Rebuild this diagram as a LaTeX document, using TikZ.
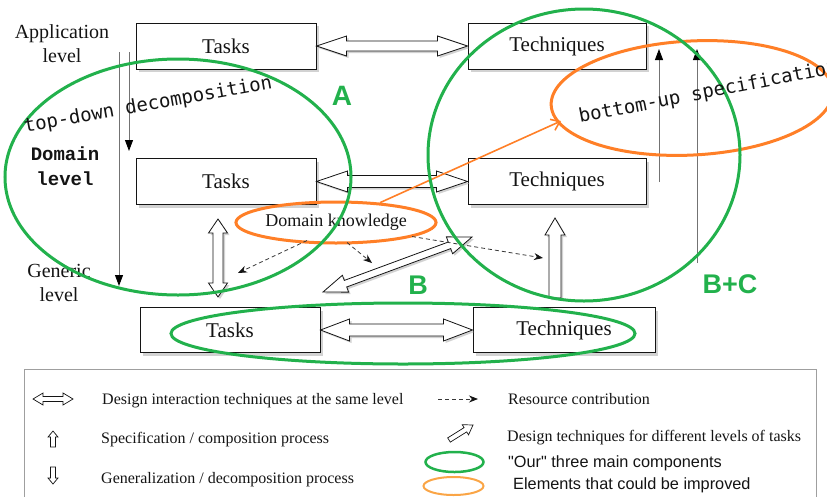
\documentclass[tikz,border=0pt]{standalone}
\usepackage{fontspec}
\setmainfont{Liberation Serif}
\newfontfamily\sansf{Liberation Sans}
\newfontfamily\monof{DejaVu Sans Mono}
\newfontfamily\courf{Liberation Mono}
\usetikzlibrary{calc,shapes.geometric,arrows.meta,shadows}
\definecolor{pgreen}{RGB}{34,177,76}
\definecolor{porange}{RGB}{255,127,39}
\definecolor{lorange}{RGB}{250,165,70}
\definecolor{ink}{RGB}{20,20,20}
% hollow double-headed arrow: [style]{A}{B}{shaft half}{head half}{head length}
\newcommand\dblarrow[6][hollow]{\draw[#1] (#2)
 -- ($(#2)!#6!(#3)!#5!90:(#3)$) -- ($(#2)!#6!(#3)!#4!90:(#3)$)
 -- ($(#3)!#6!(#2)!#4!-90:(#2)$) -- ($(#3)!#6!(#2)!#5!-90:(#2)$)
 -- (#3)
 -- ($(#3)!#6!(#2)!#5!90:(#2)$) -- ($(#3)!#6!(#2)!#4!90:(#2)$)
 -- ($(#2)!#6!(#3)!#4!-90:(#3)$) -- ($(#2)!#6!(#3)!#5!-90:(#3)$) -- cycle;}
% hollow single arrow: [style]{tail}{tip}{shaft half}{head half}{head length}
\newcommand\sglarrow[6][hollow]{\draw[#1] ($(#2)!#4!90:(#3)$)
 -- ($(#3)!#6!(#2)!#4!-90:(#2)$) -- ($(#3)!#6!(#2)!#5!-90:(#2)$)
 -- (#3)
 -- ($(#3)!#6!(#2)!#5!90:(#2)$) -- ($(#3)!#6!(#2)!#4!90:(#2)$)
 -- ($(#2)!#4!-90:(#3)$) -- cycle;}
\begin{document}
\begin{tikzpicture}[x=1pt,y=-1pt,
  box/.style={draw=ink, line width=1pt, fill=white, minimum height=46pt, inner sep=0pt,
    drop shadow={shadow xshift=3pt, shadow yshift=-3pt, fill=black!35},
    font=\fontsize{21}{24}\selectfont, text=ink},
  hollow/.style={draw=ink, line width=0.8pt, fill=white, line join=miter,
    drop shadow={shadow xshift=2pt, shadow yshift=-2pt, fill=black!35}},
  hollowplain/.style={draw=ink, line width=0.7pt, fill=white, line join=miter},
  green ring/.style={draw=pgreen, line width=3pt},
  orange ring/.style={draw=porange, line width=3pt},
  resarrow/.style={draw=ink!85, dash pattern=on 4pt off 3pt, line width=0.8pt,
    -{Stealth[length=9pt,width=7pt,color=ink]}},
  thinarrow/.style={draw=black!55, line width=0.9pt,
    -{Triangle[length=11pt,width=8pt,color=black]}},
  lbl/.style={font=\fontsize{20}{24}\selectfont, align=center, text=ink, inner sep=0pt},
  slanted/.style={font=\monof\fontsize{19}{19}\selectfont, text=ink, inner sep=0pt, anchor=base west},
  bigletter/.style={font=\sansf\bfseries\fontsize{27}{27}\selectfont, text=pgreen, inner sep=0pt},
  legtext/.style={font=\fontsize{16}{18}\selectfont, text=ink, inner sep=0pt, anchor=base west},
  legsans/.style={font=\sansf\fontsize{16.3}{18}\selectfont, text=ink, inner sep=0pt, anchor=base west}
]
\clip (0,0) rectangle (827,496);

% boxes
\node[box, minimum width=180pt] (t1) at (226,46) {Tasks};
\node[box, minimum width=178pt] (c1) at (557,46) {Techniques};
\node[box, minimum width=180pt] (t2) at (226,181.5) {Tasks};
\node[box, minimum width=178pt] (c2) at (557,181.5) {Techniques};
\node[box, minimum width=180pt, minimum height=45pt] (t3) at (230,330) {Tasks};
\node[box, minimum width=182pt, minimum height=45pt] (c3) at (564,330) {Techniques};

% same-level interaction arrows
\dblarrow{t1.east}{c1.west}{5pt}{10pt}{30pt}
\dblarrow{t2.east}{c2.west}{6pt}{10.5pt}{31pt}
\dblarrow{t3.east}{c3.west}{6pt}{11pt}{29pt}

% vertical hollow arrows
\coordinate (va) at (218,219);
\coordinate (vb) at (218,297);
\dblarrow{va}{vb}{5pt}{9.5pt}{14pt}
\coordinate (ua) at (555,298);
\coordinate (ub) at (555,218);
\sglarrow{ua}{ub}{6pt}{10pt}{17pt}

% diagonal design arrow
\coordinate (da) at (323,292);
\coordinate (db) at (472,237);
\dblarrow{da}{db}{3.5pt}{9pt}{24pt}

% level labels
\node[lbl] (app) at (62,44) {Application\\level};
\node[lbl, font=\courf\bfseries\fontsize{19}{25}\selectfont] (dom) at (65,166) {Domain\\level};
\node[lbl] (gen) at (59,283) {Generic\\level};

% thin process arrows
\coordinate (v1a) at (119,52);  \coordinate (v1b) at (119,286);
\coordinate (v2a) at (129,52);  \coordinate (v2b) at (129,151);
\coordinate (v3a) at (659,182); \coordinate (v3b) at (659,49);
\coordinate (v4a) at (697,263); \coordinate (v4b) at (697,49);
\draw[thinarrow] (v1a) -- (v1b);
\draw[thinarrow] (v2a) -- (v2b);
\draw[thinarrow] (v3a) -- (v3b);
\draw[thinarrow] (v4a) -- (v4b);

% domain knowledge
\node[ellipse, orange ring, minimum width=178pt, minimum height=41pt, inner sep=0pt,
  font=\fontsize{18}{18}\selectfont, text=ink] (dk) at (336,222.5) {Domain knowledge};
\coordinate (ra1) at (238,273);
\coordinate (ra2) at (372,263);
\coordinate (ra3) at (543,258);
\draw[resarrow] ($(dk.center)+(-29,18)$) -- (ra1);
\draw[resarrow] ($(dk.center)+(11,20)$) -- (ra2);
\draw[resarrow] ($(dk.center)+(76,14)$) -- (ra3);

% bottom-up ellipse and orange pointer
\draw[orange ring, rotate around={3:(692,98)}] (692,98) ellipse [x radius=141pt, y radius=57pt];
\coordinate (butip) at (561,121);
\draw[draw=porange, line width=1.6pt, -{Straight Barb[length=8pt,width=12pt]}] (dk) -- (butip);

% green component ellipses
\draw[green ring] (178,177) ellipse [x radius=173pt, y radius=118pt];
\draw[green ring] (584,155) ellipse [x radius=156pt, y radius=146pt];
\draw[green ring] (403,333.5) ellipse [x radius=232pt, y radius=30.5pt];

% slanted annotations
\node[slanted, rotate=10.3] (td) at (25,133) {top-down decomposition};
\node[slanted, rotate=11] (bus) at (580,123) {bottom-up specification};

% component letters
\node[bigletter, font=\sansf\bfseries\fontsize{28}{28}\selectfont] (lA) at (342,96) {A};
\node[bigletter] (lB) at (418,285) {B};
\node[bigletter] (lBC) at (730,284) {B+C};

% legend
\draw[draw=gray!75, line width=1pt] (24,500) -- (24,369) -- (816,369) -- (816,500);
\coordinate (la1) at (33,399);  \coordinate (la2) at (73,399);
\dblarrow[hollowplain]{la1}{la2}{2.5pt}{6pt}{10pt}
\coordinate (lu1) at (53,447);  \coordinate (lu2) at (53,431);
\sglarrow[hollowplain]{lu1}{lu2}{2.5pt}{5pt}{6pt}
\coordinate (ld1) at (53,467);  \coordinate (ld2) at (53,484);
\sglarrow[hollowplain]{ld1}{ld2}{2.5pt}{5pt}{6pt}
\coordinate (lg1) at (449,440); \coordinate (lg2) at (473,425);
\sglarrow[hollowplain]{lg1}{lg2}{2.5pt}{6pt}{9pt}
\coordinate (lr1) at (438,399); \coordinate (lr2) at (478,399);
\draw[resarrow] (lr1) -- (lr2);
\draw[green ring, line width=2.5pt] (454.5,462) ellipse [x radius=29pt, y radius=10pt];
\draw[draw=lorange, line width=2pt] (453.5,486) ellipse [x radius=30pt, y radius=9pt];

\node[legtext] (l1) at (102,404) {Design interaction techniques at the same level};
\node[legtext] (l2) at (508,404) {Resource contribution};
\node[legtext] (l3) at (101,443) {Specification / composition process};
\node[legtext] (l4) at (507,441) {Design techniques for different levels of tasks};
\node[legsans] (l5) at (508,467) {"Our" three main components};
\node[legtext] (l6) at (101,483) {Generalization / decomposition process};
\node[legsans] (l7) at (513,489) {Elements that could be improved};
\end{tikzpicture}
\end{document}
